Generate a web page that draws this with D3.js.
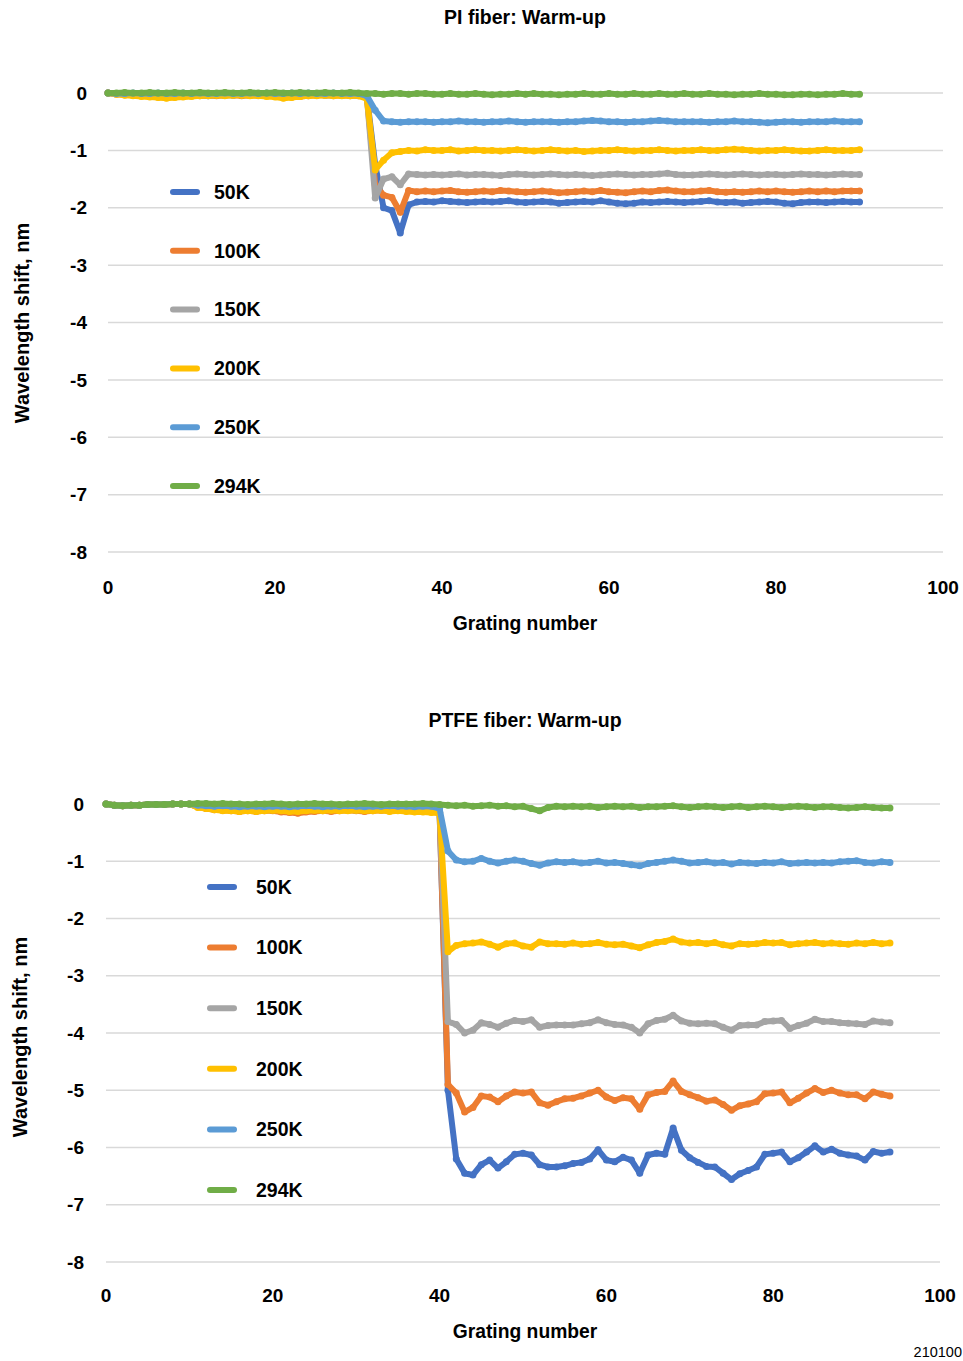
<!DOCTYPE html>
<html>
<head>
<meta charset="utf-8" />
<style>
  body { margin: 0; background: #fff; font-family: "Liberation Sans", Arial, sans-serif; }
  svg { display: block; }
</style>
<title>Warm-up wavelength shift</title>
</head>
<body>
<script src="https://cdn.jsdelivr.net/npm/d3@7"></script>
<script>
// series names and colours (Excel default palette)
const seriesNames = ["50K", "100K", "150K", "200K", "250K", "294K"];
const seriesColors = ["#4472C4", "#ED7D31", "#A5A5A5", "#FFC000", "#5B9BD5", "#70AD47"];

const xTicks = [0, 20, 40, 60, 80, 100];
const yTicks = [0, -1, -2, -3, -4, -5, -6, -7, -8];

// PI fiber, gratings 0..90
const pi50 = [
  0,-0.01,-0.02,-0.03,-0.03,-0.04,-0.05,-0.05,-0.06,-0.05,
  -0.04,-0.04,-0.05,-0.04,-0.04,-0.03,-0.04,-0.04,-0.03,-0.04,
  -0.03,-0.04,-0.05,-0.04,-0.04,-0.03,-0.03,-0.03,-0.04,-0.03,
  -0.04,-0.06,-1.25,-2.0,-2.05,-2.44,-1.95,-1.9,-1.89,-1.9,
  -1.88,-1.89,-1.9,-1.91,-1.9,-1.89,-1.9,-1.89,-1.88,-1.9,
  -1.91,-1.9,-1.89,-1.9,-1.92,-1.91,-1.9,-1.89,-1.9,-1.88,
  -1.9,-1.92,-1.93,-1.92,-1.9,-1.91,-1.9,-1.89,-1.9,-1.91,
  -1.9,-1.89,-1.88,-1.9,-1.91,-1.9,-1.92,-1.91,-1.9,-1.89,
  -1.9,-1.92,-1.93,-1.91,-1.9,-1.9,-1.91,-1.9,-1.89,-1.9,
  -1.9];
const pi100 = [
  0,-0.02,-0.03,-0.04,-0.05,-0.06,-0.07,-0.08,-0.07,-0.06,
  -0.05,-0.05,-0.04,-0.05,-0.04,-0.04,-0.05,-0.04,-0.04,-0.05,
  -0.05,-0.06,-0.07,-0.06,-0.05,-0.04,-0.04,-0.05,-0.04,-0.05,
  -0.05,-0.07,-1.6,-1.78,-1.82,-2.08,-1.7,-1.72,-1.71,-1.72,
  -1.71,-1.7,-1.72,-1.73,-1.72,-1.71,-1.72,-1.7,-1.71,-1.72,
  -1.73,-1.72,-1.71,-1.72,-1.74,-1.73,-1.72,-1.71,-1.72,-1.7,
  -1.72,-1.73,-1.74,-1.72,-1.71,-1.72,-1.7,-1.69,-1.71,-1.72,
  -1.72,-1.71,-1.7,-1.72,-1.73,-1.72,-1.73,-1.72,-1.71,-1.72,
  -1.71,-1.72,-1.73,-1.72,-1.71,-1.72,-1.71,-1.72,-1.71,-1.71,
  -1.71];
const pi150 = [
  0,-0.01,-0.02,-0.03,-0.04,-0.05,-0.06,-0.06,-0.05,-0.05,
  -0.04,-0.04,-0.04,-0.03,-0.04,-0.04,-0.03,-0.04,-0.04,-0.03,
  -0.04,-0.05,-0.05,-0.04,-0.04,-0.03,-0.04,-0.04,-0.03,-0.04,
  -0.04,-0.06,-1.83,-1.5,-1.46,-1.6,-1.41,-1.42,-1.43,-1.42,
  -1.43,-1.42,-1.41,-1.43,-1.42,-1.42,-1.43,-1.44,-1.42,-1.41,
  -1.42,-1.43,-1.42,-1.41,-1.42,-1.43,-1.42,-1.43,-1.44,-1.43,
  -1.42,-1.41,-1.42,-1.43,-1.42,-1.42,-1.41,-1.4,-1.42,-1.43,
  -1.43,-1.42,-1.41,-1.42,-1.43,-1.42,-1.41,-1.42,-1.43,-1.42,
  -1.42,-1.43,-1.42,-1.41,-1.42,-1.42,-1.43,-1.42,-1.41,-1.42,
  -1.42];
const pi200 = [
  0,-0.02,-0.04,-0.05,-0.06,-0.07,-0.08,-0.09,-0.08,-0.07,
  -0.06,-0.05,-0.05,-0.04,-0.05,-0.04,-0.04,-0.05,-0.05,-0.06,
  -0.07,-0.09,-0.08,-0.06,-0.05,-0.05,-0.04,-0.05,-0.05,-0.05,
  -0.05,-0.1,-1.34,-1.17,-1.04,-1.02,-1.0,-1.01,-0.99,-1.0,
  -1.0,-0.99,-1.01,-1.0,-0.99,-1.0,-1.0,-1.01,-1.0,-0.99,
  -1.0,-1.01,-1.0,-0.99,-1.0,-1.01,-1.0,-1.02,-1.01,-1.0,
  -1.0,-0.99,-1.0,-1.01,-1.0,-1.0,-0.99,-1.0,-1.01,-1.0,
  -1.0,-0.99,-1.0,-1.0,-0.99,-0.98,-0.99,-1.0,-1.01,-1.0,
  -1.0,-0.99,-1.0,-1.01,-1.01,-1.0,-0.99,-1.0,-1.0,-1.0,
  -0.99];
const pi250 = [
  0,-0.01,-0.01,0,-0.01,-0.01,0,-0.01,-0.01,0,
  -0.01,0,-0.01,-0.01,0,-0.01,-0.01,0,-0.01,0,
  -0.01,-0.01,0,-0.01,0,-0.01,-0.01,0,-0.01,-0.01,
  -0.01,-0.05,-0.3,-0.49,-0.5,-0.51,-0.5,-0.5,-0.5,-0.51,
  -0.5,-0.5,-0.49,-0.5,-0.5,-0.51,-0.5,-0.5,-0.49,-0.5,
  -0.51,-0.5,-0.5,-0.5,-0.51,-0.5,-0.5,-0.49,-0.48,-0.49,
  -0.5,-0.5,-0.51,-0.5,-0.5,-0.49,-0.48,-0.49,-0.5,-0.5,
  -0.5,-0.5,-0.51,-0.5,-0.5,-0.49,-0.5,-0.5,-0.51,-0.52,
  -0.51,-0.5,-0.5,-0.51,-0.5,-0.5,-0.5,-0.49,-0.5,-0.5,
  -0.5];
const pi294 = [
  0,0,0.01,0,0,0.01,0,0,0.01,0,
  0,0.01,0,0,0.01,0,0,0.01,0,0,
  0.01,0,0,0.01,0,0,0.01,0,0,0.01,
  0,-0.01,-0.01,-0.02,-0.01,-0.01,-0.02,-0.01,-0.01,-0.02,
  -0.02,-0.01,-0.02,-0.02,-0.01,-0.02,-0.03,-0.02,-0.02,-0.01,
  -0.02,-0.01,-0.02,-0.02,-0.03,-0.02,-0.02,-0.01,-0.02,-0.02,
  -0.01,-0.02,-0.02,-0.01,-0.02,-0.02,-0.01,-0.02,-0.02,-0.01,
  -0.02,-0.02,-0.01,-0.02,-0.02,-0.03,-0.02,-0.02,-0.01,-0.02,
  -0.02,-0.03,-0.03,-0.02,-0.02,-0.03,-0.02,-0.02,-0.01,-0.02,
  -0.02];

// PTFE fiber, gratings 0..94
const ptfe50 = [
  0,-0.02,-0.03,-0.02,-0.02,-0.01,-0.01,-0.01,0,0,
  0,-0.05,-0.07,-0.08,-0.09,-0.1,-0.1,-0.11,-0.1,-0.1,
  -0.11,-0.12,-0.11,-0.13,-0.12,-0.11,-0.1,-0.11,-0.1,-0.1,
  -0.11,-0.1,-0.09,-0.1,-0.11,-0.1,-0.1,-0.11,-0.12,-0.12,
  -0.15,-5.0,-6.2,-6.45,-6.48,-6.3,-6.22,-6.36,-6.25,-6.12,
  -6.1,-6.13,-6.3,-6.34,-6.34,-6.32,-6.28,-6.26,-6.2,-6.04,
  -6.22,-6.25,-6.17,-6.22,-6.45,-6.13,-6.1,-6.12,-5.66,-6.05,
  -6.18,-6.26,-6.33,-6.34,-6.45,-6.56,-6.46,-6.4,-6.34,-6.12,
  -6.1,-6.08,-6.25,-6.18,-6.08,-5.97,-6.08,-6.03,-6.1,-6.13,
  -6.15,-6.22,-6.07,-6.1,-6.08];
const ptfe100 = [
  0,-0.02,-0.03,-0.02,-0.02,-0.01,-0.01,-0.01,0,0,
  0,-0.05,-0.08,-0.1,-0.11,-0.12,-0.13,-0.12,-0.13,-0.12,
  -0.12,-0.14,-0.15,-0.16,-0.14,-0.13,-0.12,-0.13,-0.12,-0.11,
  -0.12,-0.13,-0.12,-0.11,-0.12,-0.11,-0.12,-0.13,-0.12,-0.12,
  -0.15,-4.9,-5.05,-5.38,-5.3,-5.1,-5.12,-5.2,-5.1,-5.03,
  -5.05,-5.03,-5.22,-5.26,-5.2,-5.15,-5.14,-5.1,-5.05,-5.0,
  -5.12,-5.18,-5.13,-5.15,-5.33,-5.08,-5.04,-5.02,-4.84,-5.02,
  -5.08,-5.13,-5.19,-5.17,-5.25,-5.35,-5.27,-5.24,-5.2,-5.06,
  -5.05,-5.03,-5.22,-5.14,-5.05,-4.97,-5.04,-5.0,-5.05,-5.08,
  -5.08,-5.15,-5.03,-5.07,-5.1];
const ptfe150 = [
  0,-0.02,-0.03,-0.02,-0.02,-0.01,-0.01,-0.01,0,0,
  0,-0.04,-0.06,-0.08,-0.09,-0.1,-0.1,-0.11,-0.1,-0.11,
  -0.1,-0.11,-0.12,-0.12,-0.11,-0.1,-0.11,-0.1,-0.1,-0.1,
  -0.11,-0.1,-0.1,-0.1,-0.11,-0.1,-0.1,-0.11,-0.1,-0.11,
  -0.14,-3.8,-3.85,-4.0,-3.95,-3.82,-3.85,-3.9,-3.83,-3.78,
  -3.8,-3.77,-3.9,-3.87,-3.86,-3.86,-3.86,-3.84,-3.82,-3.77,
  -3.82,-3.85,-3.86,-3.9,-4.0,-3.84,-3.78,-3.76,-3.69,-3.79,
  -3.83,-3.84,-3.83,-3.84,-3.9,-3.95,-3.87,-3.86,-3.86,-3.8,
  -3.79,-3.78,-3.92,-3.87,-3.83,-3.76,-3.8,-3.8,-3.82,-3.83,
  -3.84,-3.85,-3.79,-3.81,-3.82];
const ptfe200 = [
  0,-0.02,-0.03,-0.02,-0.02,-0.01,-0.01,-0.01,0,0,
  0,-0.06,-0.08,-0.1,-0.12,-0.12,-0.13,-0.12,-0.13,-0.12,
  -0.11,-0.12,-0.13,-0.13,-0.12,-0.11,-0.12,-0.11,-0.12,-0.12,
  -0.11,-0.12,-0.12,-0.11,-0.13,-0.12,-0.13,-0.14,-0.14,-0.15,
  -0.16,-2.58,-2.47,-2.44,-2.43,-2.41,-2.45,-2.5,-2.44,-2.43,
  -2.48,-2.5,-2.41,-2.44,-2.44,-2.45,-2.43,-2.45,-2.44,-2.42,
  -2.45,-2.46,-2.45,-2.48,-2.51,-2.46,-2.42,-2.4,-2.36,-2.41,
  -2.43,-2.42,-2.44,-2.42,-2.46,-2.48,-2.44,-2.45,-2.44,-2.42,
  -2.43,-2.42,-2.46,-2.44,-2.43,-2.42,-2.44,-2.43,-2.44,-2.45,
  -2.43,-2.44,-2.42,-2.44,-2.43];
const ptfe250 = [
  0,-0.02,-0.03,-0.02,-0.02,-0.01,-0.01,-0.01,0,0,
  0,-0.02,-0.03,-0.04,-0.03,-0.04,-0.05,-0.04,-0.04,-0.05,
  -0.04,-0.04,-0.05,-0.04,-0.03,-0.04,-0.05,-0.04,-0.04,-0.03,
  -0.04,-0.05,-0.04,-0.04,-0.03,-0.04,-0.04,-0.05,-0.04,-0.04,
  -0.08,-0.82,-0.98,-1.01,-1.0,-0.95,-1.0,-1.03,-1.0,-0.98,
  -1.0,-1.04,-1.07,-1.03,-1.01,-1.02,-1.01,-1.03,-1.02,-1.0,
  -1.03,-1.02,-1.04,-1.06,-1.08,-1.04,-1.02,-1.0,-0.98,-1.0,
  -1.03,-1.02,-1.01,-1.03,-1.02,-1.05,-1.02,-1.03,-1.04,-1.02,
  -1.03,-1.01,-1.04,-1.03,-1.02,-1.03,-1.02,-1.03,-1.01,-1.0,
  -0.99,-1.02,-1.03,-1.01,-1.02];
const ptfe294 = [
  0,-0.02,-0.03,-0.02,-0.02,-0.01,-0.01,-0.01,0,0,
  0,0.01,0.01,0,0.01,0,0,-0.01,0,0,
  0.01,0,-0.01,0,0,0.01,0,0,-0.01,0,
  0,0.01,0,-0.01,0,0,0,0,0.01,0,
  -0.01,-0.02,-0.03,-0.02,-0.04,-0.03,-0.02,-0.04,-0.03,-0.05,
  -0.04,-0.08,-0.12,-0.06,-0.04,-0.05,-0.04,-0.05,-0.04,-0.06,
  -0.05,-0.04,-0.05,-0.04,-0.06,-0.05,-0.05,-0.04,-0.03,-0.05,
  -0.06,-0.05,-0.04,-0.05,-0.06,-0.05,-0.04,-0.06,-0.05,-0.04,
  -0.05,-0.06,-0.05,-0.04,-0.05,-0.06,-0.05,-0.05,-0.06,-0.07,
  -0.06,-0.05,-0.06,-0.07,-0.07];

const W = 963, H = 1361;
const svg = d3.select("body").append("svg").attr("width", W).attr("height", H);

function drawPanel(opt) {
  const g = svg.append("g");
  const x = d3.scaleLinear().domain([0, 100]).range([opt.left, opt.right]);
  const y = d3.scaleLinear().domain([-8, 0]).range([opt.bottom, opt.top]);

  // gridlines
  g.selectAll("line.grid").data(yTicks).join("line")
    .attr("x1", x(0)).attr("x2", x(100))
    .attr("y1", d => y(d)).attr("y2", d => y(d))
    .attr("stroke", "#d9d9d9").attr("stroke-width", 1.5);

  // y tick labels
  g.selectAll("text.ytick").data(yTicks).join("text")
    .attr("x", opt.left - opt.yLabelGap).attr("y", d => y(d))
    .attr("dy", "0.35em").attr("text-anchor", "end")
    .attr("font-size", 19).attr("font-weight", "bold").attr("fill", "#000")
    .text(d => d);

  // x tick labels
  g.selectAll("text.xtick").data(xTicks).join("text")
    .attr("x", d => x(d)).attr("y", opt.xTickY)
    .attr("dy", "0.35em").attr("text-anchor", "middle")
    .attr("font-size", 19).attr("font-weight", "bold").attr("fill", "#000")
    .text(d => d);

  // titles
  g.append("text").attr("x", opt.titleX).attr("y", opt.titleY).attr("dy", "0.35em")
    .attr("text-anchor", "middle").attr("font-size", 19.5).attr("font-weight", "bold")
    .text(opt.title);
  g.append("text").attr("x", opt.titleX).attr("y", opt.xTitleY).attr("dy", "0.35em")
    .attr("text-anchor", "middle").attr("font-size", 19.3).attr("font-weight", "bold")
    .text("Grating number");
  g.append("text")
    .attr("transform", `translate(${opt.yTitleX},${opt.yTitleY}) rotate(-90)`)
    .attr("dy", "0.35em").attr("text-anchor", "middle")
    .attr("font-size", 20).attr("font-weight", "bold")
    .text("Wavelength shift, nm");

  const line = d3.line().x((d, i) => x(i)).y(d => y(d));

  opt.series.forEach((vals, k) => {
    const s = g.append("g");
    s.append("path").datum(vals)
      .attr("d", line).attr("fill", "none")
      .attr("stroke", seriesColors[k]).attr("stroke-width", 6)
      .attr("stroke-linejoin", "round").attr("stroke-linecap", "round");
    s.selectAll("circle").data(vals).join("circle")
      .attr("cx", (d, i) => x(i)).attr("cy", d => y(d)).attr("r", 3.5)
      .attr("fill", seriesColors[k]);
  });

  // legend
  const leg = g.append("g");
  const ly = d3.scaleLinear().domain([0, seriesNames.length - 1]).range(opt.legendY);
  seriesNames.forEach((name, k) => {
    leg.append("line")
      .attr("x1", opt.legendX + 3).attr("x2", opt.legendX + 27)
      .attr("y1", ly(k)).attr("y2", ly(k))
      .attr("stroke", seriesColors[k]).attr("stroke-width", 6).attr("stroke-linecap", "round");
    leg.append("text").attr("x", opt.legendTextX).attr("y", ly(k)).attr("dy", "0.35em")
      .attr("font-size", 19.5).attr("font-weight", "bold").text(name);
  });
}

drawPanel({
  title: "PI fiber: Warm-up",
  series: [pi50, pi100, pi150, pi200, pi250, pi294],
  left: 108, right: 943, top: 93, bottom: 552,
  yLabelGap: 21, xTickY: 587, xTitleY: 623,
  titleX: 525, titleY: 17, yTitleX: 22, yTitleY: 323,
  legendX: 170, legendTextX: 214, legendY: [192, 486]
});

drawPanel({
  title: "PTFE fiber: Warm-up",
  series: [ptfe50, ptfe100, ptfe150, ptfe200, ptfe250, ptfe294],
  left: 106, right: 940, top: 804, bottom: 1262,
  yLabelGap: 22, xTickY: 1295, xTitleY: 1331,
  titleX: 525, titleY: 720, yTitleX: 20, yTitleY: 1037,
  legendX: 207, legendTextX: 256, legendY: [887, 1190]
});

svg.append("text").attr("x", 962).attr("y", 1352).attr("dy", "0.35em")
  .attr("text-anchor", "end").attr("font-size", 14.5).text("210100");
</script>
</body>
</html>
